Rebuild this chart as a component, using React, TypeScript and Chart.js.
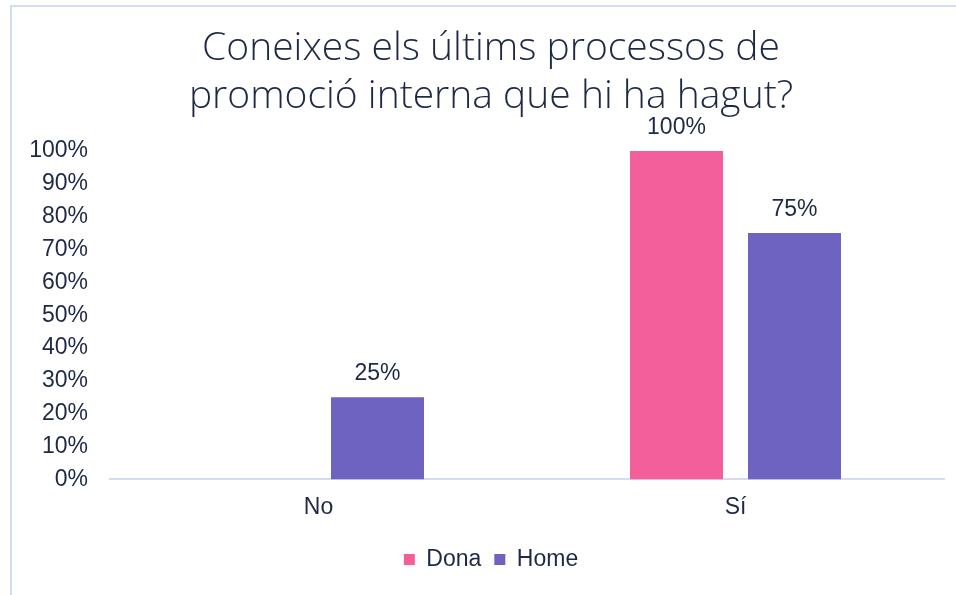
import React, { useEffect, useRef } from "react";
import { Chart, registerables } from "chart.js";

Chart.register(...registerables);

const categories = ["No", "Sí"];
const seriesNames = ["Dona", "Home"];
const donaValues = [0, 100];
const homeValues = [25, 75];
const yTicks = [0, 10, 20, 30, 40, 50, 60, 70, 80, 90, 100];
const titleLines = ["Coneixes els últims processos de", "promoció interna que hi ha hagut?"];

const TEXT = "#1e2a44";
const PINK = "#f25f9b";
const PURPLE = "#6e63c1";
const FONT = '"Liberation Sans", Arial, sans-serif';

const dataLabelPlugin = {
  id: "dataLabels",
  afterDatasetsDraw(chart: any) {
    const ctx = chart.ctx;
    ctx.save();
    ctx.font = "23px " + FONT;
    ctx.fillStyle = TEXT;
    ctx.textAlign = "center";
    ctx.textBaseline = "alphabetic";
    chart.data.datasets.forEach((ds: any, i: number) => {
      const meta = chart.getDatasetMeta(i);
      meta.data.forEach((el: any, j: number) => {
        const v = ds.data[j];
        if (!v) return;
        ctx.fillText(v + "%", el.x, el.y - 17);
      });
    });
    ctx.restore();
  },
};

export default function App() {
  const ref = useRef<HTMLCanvasElement>(null);
  useEffect(() => {
    if (!ref.current) return;
    const chart = new Chart(ref.current, {
      type: "bar",
      data: {
        labels: categories,
        datasets: [
          { label: seriesNames[0], data: donaValues, backgroundColor: PINK },
          { label: seriesNames[1], data: homeValues, backgroundColor: PURPLE },
        ],
      },
      options: {
        animation: false,
        responsive: false,
        devicePixelRatio: 1,
        layout: { padding: { left: 0, right: 0, top: 0, bottom: 14 } },
        datasets: {
          bar: { categoryPercentage: 0.566, barPercentage: 0.788 },
        } as any,
        scales: {
          x: {
            grid: { display: false, drawTicks: false },
            border: { display: true, color: "#d6dcef", width: 2 },
            ticks: {
              color: TEXT,
              padding: 14,
              font: { family: FONT, size: 23 },
            },
          },
          y: {
            min: 0,
            max: 100,
            afterFit: (s: any) => {
              s.width = 110;
            },
            afterBuildTicks: (s: any) => {
              s.ticks = yTicks.map((v) => ({ value: v }));
            },
            grid: { display: false, drawTicks: false },
            border: { display: false },
            ticks: {
              color: TEXT,
              padding: 22,
              callback: (v: any) => v + "%",
              font: { family: FONT, size: 23 },
            },
          },
          spacer: {
            type: "linear",
            position: "right",
            afterFit: (s: any) => {
              s.width = 38;
            },
            grid: { display: false, drawTicks: false },
            border: { display: false },
            ticks: { display: false },
          },
        },
        plugins: {
          title: {
            display: true,
            text: titleLines,
            color: TEXT,
            font: { family: '"Open Sans", sans-serif', size: 39, weight: "300" as any, lineHeight: 1.23 },
            padding: { top: 25, bottom: 30 },
          },
          legend: {
            position: "bottom",
            labels: {
              color: TEXT,
              boxWidth: 11,
              boxHeight: 11,
              padding: 13,
              font: { family: FONT, size: 23 },
            },
          },
          tooltip: { enabled: false },
        },
      },
      plugins: [dataLabelPlugin],
    });
    return () => chart.destroy();
  }, []);
  return (
    <div
      style={{
        position: "fixed",
        left: 0,
        top: 0,
        width: 956,
        height: 595,
        background: "#fff",
        overflow: "hidden",
      }}
    >
      <div
        style={{
          position: "absolute",
          left: 10,
          top: 5,
          width: 980,
          height: 620,
          borderLeft: "2px solid #d4ddf0",
          borderTop: "2px solid #d4ddf0",
        }}
      />
      <canvas ref={ref} width={982} height={595} style={{ position: "absolute", left: 0, top: 0 }} />
    </div>
  );
}
